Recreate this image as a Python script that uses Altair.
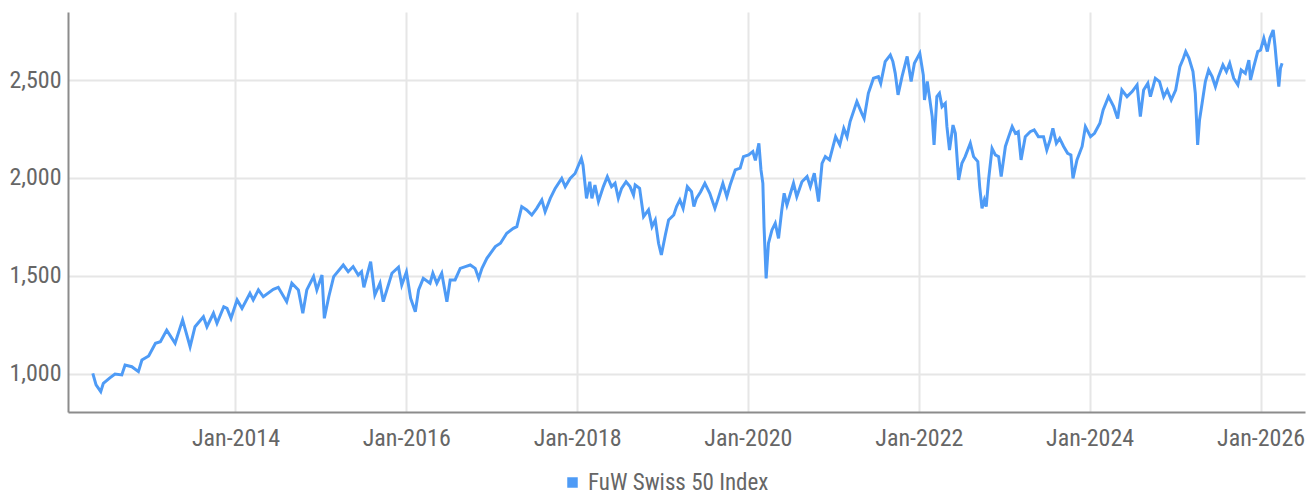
import altair as alt
import pandas as pd

dates = [
    "2012-05-01", "2012-05-15", "2012-06-04", "2012-06-15", "2012-07-13", "2012-08-04",
    "2012-09-02", "2012-09-16", "2012-10-15", "2012-11-12", "2012-11-27", "2012-12-26",
    "2013-01-24", "2013-02-14", "2013-03-13", "2013-04-18", "2013-05-20", "2013-06-21",
    "2013-07-12", "2013-08-17", "2013-09-01", "2013-09-29", "2013-10-14", "2013-11-12",
    "2013-11-26", "2013-12-13", "2014-01-08", "2014-01-29", "2014-03-04", "2014-03-18",
    "2014-04-09", "2014-04-30", "2014-06-12", "2014-07-03", "2014-08-08", "2014-08-30",
    "2014-09-27", "2014-10-16", "2014-11-02", "2014-12-01", "2014-12-15", "2015-01-06",
    "2015-01-16", "2015-02-04", "2015-02-25", "2015-04-07", "2015-04-28", "2015-05-19",
    "2015-06-10", "2015-06-24", "2015-07-04", "2015-08-02", "2015-08-20", "2015-09-11",
    "2015-09-25", "2015-11-01", "2015-11-29", "2015-12-13", "2016-01-02", "2016-01-20",
    "2016-02-09", "2016-02-23", "2016-03-14", "2016-04-12", "2016-04-24", "2016-05-11",
    "2016-06-01", "2016-06-23", "2016-07-07", "2016-07-28", "2016-08-19", "2016-09-10",
    "2016-10-01", "2016-10-22", "2016-11-06", "2016-11-20", "2016-12-11", "2017-01-16",
    "2017-02-07", "2017-03-06", "2017-04-03", "2017-04-18", "2017-05-09", "2017-05-30",
    "2017-06-21", "2017-07-12", "2017-08-03", "2017-08-17", "2017-09-08", "2017-09-29",
    "2017-10-27", "2017-11-11", "2017-12-02", "2017-12-23", "2018-01-19", "2018-01-26",
    "2018-02-10", "2018-02-24", "2018-03-05", "2018-03-18", "2018-04-02", "2018-04-23",
    "2018-05-10", "2018-05-28", "2018-06-12", "2018-06-26", "2018-07-10", "2018-07-29",
    "2018-08-15", "2018-08-30", "2018-09-06", "2018-09-25", "2018-10-12", "2018-11-02",
    "2018-11-17", "2018-12-01", "2018-12-15", "2018-12-27", "2019-01-13", "2019-01-27",
    "2019-02-18", "2019-03-02", "2019-03-16", "2019-03-30", "2019-04-17", "2019-05-05",
    "2019-05-15", "2019-05-26", "2019-06-13", "2019-07-01", "2019-07-22", "2019-08-13",
    "2019-08-27", "2019-09-16", "2019-10-03", "2019-10-17", "2019-11-08", "2019-11-29",
    "2019-12-13", "2020-01-04", "2020-01-22", "2020-02-02", "2020-02-17", "2020-02-26",
    "2020-03-05", "2020-03-10", "2020-03-19", "2020-03-29", "2020-04-13", "2020-04-27",
    "2020-05-11", "2020-05-25", "2020-06-04", "2020-06-16", "2020-07-14", "2020-07-28",
    "2020-08-19", "2020-09-10", "2020-09-24", "2020-10-11", "2020-10-29", "2020-11-13",
    "2020-11-27", "2020-12-15", "2021-01-10", "2021-01-28", "2021-02-14", "2021-02-28",
    "2021-03-13", "2021-04-11", "2021-05-02", "2021-05-12", "2021-05-30", "2021-06-21",
    "2021-07-12", "2021-07-22", "2021-08-10", "2021-09-01", "2021-09-12", "2021-09-22",
    "2021-10-04", "2021-10-21", "2021-11-12", "2021-11-29", "2021-12-13", "2022-01-05",
    "2022-01-20", "2022-01-25", "2022-02-06", "2022-02-27", "2022-03-07", "2022-03-19",
    "2022-03-30", "2022-04-10", "2022-04-24", "2022-05-01", "2022-05-12", "2022-05-27",
    "2022-06-06", "2022-06-20", "2022-07-04", "2022-07-18", "2022-08-09", "2022-08-23",
    "2022-09-10", "2022-09-18", "2022-09-28", "2022-10-08", "2022-10-16", "2022-10-26",
    "2022-11-10", "2022-11-24", "2022-12-08", "2022-12-19", "2023-01-06", "2023-01-20",
    "2023-02-04", "2023-02-18", "2023-03-02", "2023-03-14", "2023-04-01", "2023-04-22",
    "2023-05-09", "2023-05-27", "2023-06-18", "2023-07-02", "2023-07-16", "2023-07-28",
    "2023-08-12", "2023-08-26", "2023-09-12", "2023-09-29", "2023-10-13", "2023-10-22",
    "2023-11-08", "2023-11-30", "2023-12-14", "2024-01-05", "2024-01-22", "2024-02-14",
    "2024-02-28", "2024-03-22", "2024-04-13", "2024-04-30", "2024-05-18", "2024-06-09",
    "2024-07-01", "2024-07-22", "2024-08-05", "2024-08-19", "2024-09-06", "2024-09-17",
    "2024-10-08", "2024-10-26", "2024-11-13", "2024-11-28", "2024-12-15", "2025-01-03",
    "2025-01-21", "2025-02-05", "2025-02-15", "2025-03-01", "2025-03-18", "2025-03-28",
    "2025-04-07", "2025-04-15", "2025-04-26", "2025-05-10", "2025-05-24", "2025-06-08",
    "2025-06-22", "2025-07-05", "2025-07-24", "2025-08-08", "2025-08-22", "2025-09-08",
    "2025-09-26", "2025-10-10", "2025-10-28", "2025-11-12", "2025-11-19", "2025-12-03",
    "2025-12-20", "2026-01-01", "2026-01-15", "2026-01-30", "2026-02-10", "2026-02-24",
    "2026-03-04", "2026-03-11", "2026-03-20", "2026-03-27", "2026-04-03",
]

values = [
    1003, 944, 910, 952, 980, 1000,
    995, 1046, 1037, 1012, 1071, 1092,
    1157, 1165, 1224, 1157, 1276, 1139,
    1241, 1292, 1241, 1310, 1259, 1343,
    1335, 1284, 1378, 1335, 1412, 1378,
    1429, 1394, 1432, 1442, 1369, 1463,
    1429, 1310, 1429, 1497, 1429, 1505,
    1284, 1394, 1497, 1556, 1522, 1548,
    1505, 1522, 1442, 1573, 1403, 1463,
    1369, 1514, 1545, 1454, 1520, 1386,
    1318, 1429, 1488, 1463, 1514, 1463,
    1514, 1369, 1480, 1480, 1539, 1548,
    1556, 1539, 1488, 1539, 1590, 1650,
    1667, 1718, 1743, 1752, 1854, 1837,
    1811, 1845, 1888, 1828, 1896, 1947,
    1998, 1956, 1998, 2023, 2100, 2066,
    1896, 1981, 1896, 1964, 1880, 1956,
    2007, 1956, 1973, 1896, 1947, 1981,
    1956, 1913, 1964, 1947, 1803, 1837,
    1752, 1786, 1667, 1607, 1709, 1786,
    1811, 1854, 1888, 1845, 1956, 1930,
    1854, 1896, 1930, 1973, 1922, 1845,
    1896, 1973, 1905, 1964, 2041, 2050,
    2109, 2118, 2135, 2090, 2177, 2041,
    1973, 1752, 1488, 1667, 1735, 1769,
    1692, 1837, 1922, 1862, 1973, 1905,
    1981, 2007, 1956, 2024, 1880, 2075,
    2109, 2092, 2211, 2169, 2253, 2211,
    2288, 2390, 2330, 2304, 2432, 2509,
    2517, 2483, 2594, 2628, 2594, 2534,
    2424, 2517, 2620, 2492, 2585, 2636,
    2525, 2398, 2492, 2313, 2169, 2415,
    2432, 2364, 2381, 2262, 2143, 2270,
    2228, 1990, 2075, 2109, 2177, 2109,
    2084, 1956, 1845, 1888, 1854, 1990,
    2151, 2118, 2109, 2007, 2161, 2211,
    2262, 2228, 2236, 2092, 2211, 2236,
    2245, 2211, 2211, 2143, 2194, 2253,
    2177, 2202, 2161, 2126, 2118, 1998,
    2092, 2161, 2262, 2211, 2228, 2279,
    2347, 2415, 2364, 2304, 2449, 2415,
    2441, 2475, 2313, 2449, 2483, 2415,
    2509, 2492, 2415, 2449, 2398, 2449,
    2568, 2611, 2645, 2611, 2543, 2432,
    2169, 2296, 2381, 2492, 2551, 2517,
    2466, 2517, 2577, 2543, 2585, 2509,
    2475, 2551, 2534, 2602, 2500, 2568,
    2645, 2653, 2713, 2645, 2713, 2755,
    2670, 2577, 2466, 2560, 2585,
]

series_name = "FuW Swiss 50 Index"
y_ticks = [1000, 1500, 2000, 2500]
x_tick_years = [2014, 2016, 2018, 2020, 2022, 2024, 2026]

df = pd.DataFrame({"date": dates, "value": values, "series": series_name})

FONT = "'Liberation Sans Narrow', 'Arial Narrow', 'Roboto Condensed', 'DejaVu Sans Condensed', sans-serif"
BLUE = "#4e9bf6"

chart = (
    alt.Chart(df)
    .mark_line(strokeWidth=3, interpolate="linear")
    .encode(
        x=alt.X(
            "date:T",
            title="",
            scale=alt.Scale(
                domain=[
                    alt.DateTime(year=2012, month=1, date=16),
                    alt.DateTime(year=2026, month=7, date=10),
                ]
            ),
            axis=alt.Axis(
                values=[alt.DateTime(year=y, month=1, date=1) for y in x_tick_years],
                format="%b-%Y",
                labelPadding=14,
                grid=True,
            ),
        ),
        y=alt.Y(
            "value:Q",
            title="",
            scale=alt.Scale(domain=[806, 2847], nice=False, zero=False),
            axis=alt.Axis(values=y_ticks, format=",.0f", labelPadding=7, grid=True),
        ),
        color=alt.Color(
            "series:N",
            scale=alt.Scale(range=[BLUE]),
            legend=alt.Legend(
                title=None,
                orient="none",
                legendX=493,
                legendY=459,
                symbolType="square",
                symbolSize=110,
                symbolFillColor=BLUE,
                symbolStrokeWidth=0,
                labelFont=FONT,
                labelFontSize=23,
                labelColor="#666666",
                labelOffset=4,
                labelLimit=0,
            ),
        ),
    )
    .properties(
        width=1237,
        height=400,
        autosize=alt.AutoSizeParams(type="none"),
        padding={"left": 60, "top": 4, "right": 1, "bottom": 82},
    )
    .configure_view(strokeWidth=0)
    .configure_axis(
        labelFont=FONT,
        labelFontSize=24,
        labelColor="#666666",
        domainColor="#8c8c8c",
        domainWidth=2,
        ticks=False,
        tickSize=0,
        gridColor="#e6e6e6",
        gridWidth=2,
    )
)

chart.save("out.html", embed_options={"renderer": "svg", "actions": False})
